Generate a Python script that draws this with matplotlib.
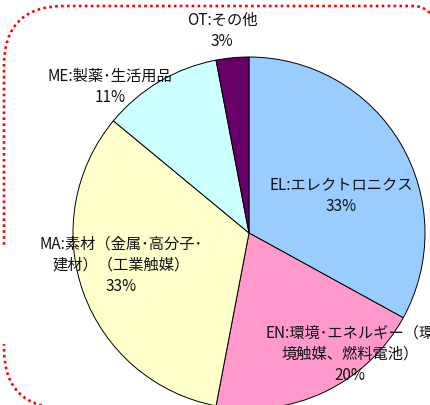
import matplotlib
matplotlib.use("Agg")
import matplotlib.pyplot as plt
from matplotlib.patches import FancyBboxPatch, Rectangle

plt.rcParams['font.family'] = ['Noto Sans CJK JP', 'DejaVu Sans']

# ---- data ----
categories = ["EL:エレクトロニクス",
              "EN:環境･エネルギー（環\n境触媒、燃料電池）",
              "MA:素材（金属･高分子･\n建材）（工業触媒）",
              "ME:製薬･生活用品",
              "OT:その他"]
shares = [33, 20, 33, 11, 3]
colors = ["#99CCFF", "#FF99CC", "#FFFFCC", "#CCFFFF", "#660066"]

# ---- layout (pixel coordinates, y measured from top) ----
W, H = 430, 405
center_px = (249, 233)
radius_px = 176
label_pos_px = [(341, 196), (350, 354), (121, 265), (110, 87), (222, 31)]

fig = plt.figure(figsize=(W / 100, H / 100), dpi=100)
ax = fig.add_axes([0, 0, 1, 1])
ax.set_xlim(0, W)
ax.set_ylim(0, H)
ax.set_aspect('equal')
ax.axis('off')

# dotted rounded border
border = FancyBboxPatch((4, H - 408), 470, 402,
                        boxstyle="round,pad=0,rounding_size=60",
                        fill=False, edgecolor='#FF0000', linewidth=1.9,
                        linestyle=(0, (1, 1.25)), zorder=1)
ax.add_patch(border)
# gap in the left border
ax.add_patch(Rectangle((-5, H - 344), 20, 96, facecolor='white',
                       edgecolor='none', zorder=2))

ax.pie(shares, colors=colors, startangle=90, counterclock=False,
       center=(center_px[0], H - center_px[1]), radius=radius_px,
       wedgeprops=dict(edgecolor='black', linewidth=0.7), frame=True)
ax.set_xlim(0, W)
ax.set_ylim(0, H)
ax.axis('off')

for name, val, (x, y) in zip(categories, shares, label_pos_px):
    ax.text(x, H - y, f"{name}\n{val}%", ha='center', va='center',
            fontsize=11, color='#111111', linespacing=1.33, zorder=5)

fig.savefig("out.png", dpi=100)
